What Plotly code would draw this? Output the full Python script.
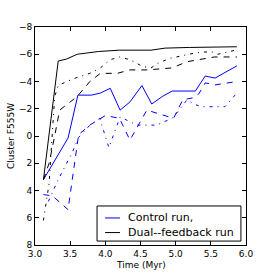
import plotly.graph_objects as go

# Dual-feedback run
dual_solid_t = [3.12, 3.33, 3.45, 3.60, 3.90, 4.20, 4.65, 4.85, 5.20, 5.87]
dual_solid_v = [3.2, -5.5, -5.65, -6.0, -6.2, -6.3, -6.3, -6.45, -6.5, -6.55]

dual_dash_t = [3.12, 3.20, 3.28, 3.35, 3.50, 3.60, 3.78, 3.93, 4.17, 4.35, 4.60, 4.95, 5.16, 5.55, 5.87]
dual_dash_v = [3.2, 2.0, 0.0, -1.9, -2.5, -2.9, -4.0, -4.6, -4.6, -4.85, -4.85, -5.0, -5.45, -5.8, -5.8]

dual_dashdot_t = [3.12, 3.20, 3.28, 3.33, 3.45, 3.60, 3.78, 3.93, 4.07, 4.20, 4.35, 4.53, 4.65, 4.75, 4.92,
                  5.05, 5.28, 5.50, 5.60, 5.85]
dual_dashdot_v = [6.2, 3.5, -2.9, -3.7, -4.0, -4.3, -4.6, -5.0, -5.6, -5.8, -5.6, -5.1, -5.0, -5.35, -5.7,
                  -5.85, -6.1, -6.2, -6.0, -6.3]

# Control run
ctrl_solid_t = [3.12, 3.47, 3.61, 3.80, 3.93, 4.07, 4.21, 4.35, 4.52, 4.66, 4.81, 4.95, 5.28, 5.42, 5.56, 5.87]
ctrl_solid_v = [3.2, 0.15, -3.0, -3.0, -3.15, -3.5, -1.9, -2.5, -3.7, -2.35, -2.9, -3.3, -3.3, -4.4, -4.25, -5.15]

ctrl_dash_t = [3.12, 3.25, 3.47, 3.55, 3.62, 3.78, 4.00, 4.20, 4.35, 4.59, 4.73, 4.85, 4.97, 5.10, 5.24, 5.33,
               5.42, 5.56, 5.87]
ctrl_dash_v = [4.3, 4.4, 5.4, 2.5, -0.1, -0.8, -1.5, -1.3, 0.3, -1.9, -1.7, -1.5, -1.3, -2.65, -2.8, -3.1,
               -3.9, -3.75, -4.0]

ctrl_dashdot_t = [3.19, 3.33, 3.53, 3.62, 3.78, 3.92, 4.05, 4.21, 4.45, 4.73, 4.95, 5.05, 5.16, 5.28, 5.37,
                  5.70, 5.87]
ctrl_dashdot_v = [4.8, 3.2, 1.2, 0.1, -0.8, -1.3, 0.85, -1.4, -0.8, -0.8, -1.3, -1.9, -2.65, -2.3, -2.15,
                  -2.15, -3.15]

legend_names = ["Control run,", "Dual--feedback run"]

BLUE = "#0000ff"
BLACK = "#000000"
DASH = "6px,6px"
DASHDOT = "3px,5px,1px,5px"

fig = go.Figure()

series = [
    (ctrl_solid_t, ctrl_solid_v, BLUE, "solid", legend_names[0]),
    (ctrl_dash_t, ctrl_dash_v, BLUE, DASH, None),
    (ctrl_dashdot_t, ctrl_dashdot_v, BLUE, DASHDOT, None),
    (dual_solid_t, dual_solid_v, BLACK, "solid", legend_names[1]),
    (dual_dash_t, dual_dash_v, BLACK, DASH, None),
    (dual_dashdot_t, dual_dashdot_v, BLACK, DASHDOT, None),
]
for t, v, c, d, name in series:
    fig.add_trace(go.Scatter(x=t, y=v, mode="lines", name=name, showlegend=False,
                             line=dict(color=c, width=1, dash=d)))

axis_common = dict(showline=True, linecolor="black", linewidth=1, mirror="ticks",
                   ticks="inside", ticklen=4, tickcolor="black", tickwidth=1,
                   showgrid=False, zeroline=False,
                   tickfont=dict(family="DejaVu Sans", size=9, color="black"))

# legend box drawn in paper coordinates (matplotlib-style legend)
box = dict(x0=0.294, x1=0.976, y0=0.018, y1=0.179)
rows = [(0.124, BLUE, legend_names[0]), (0.057, BLACK, legend_names[1])]
shapes = [dict(type="rect", xref="paper", yref="paper", line=dict(color="black", width=1),
               fillcolor="white", layer="above", **box)]
annotations = []
for yy, col, label in rows:
    shapes.append(dict(type="line", xref="paper", yref="paper", x0=0.332, x1=0.403, y0=yy, y1=yy,
                       line=dict(color=col, width=1), layer="above"))
    annotations.append(dict(text=label, xref="paper", yref="paper", x=0.433, y=yy,
                            xanchor="left", yanchor="middle", showarrow=False,
                            font=dict(family="DejaVu Sans", size=11, color="black")))

annotations += [
    dict(text="Time (Myr)", xref="paper", yref="paper", x=0.5, y=-0.092,
         xanchor="center", yanchor="middle", showarrow=False,
         font=dict(family="DejaVu Sans", size=9)),
    dict(text="Cluster F555W", xref="paper", yref="paper", x=-0.114, y=0.5,
         xanchor="center", yanchor="middle", textangle=-90, showarrow=False,
         font=dict(family="DejaVu Sans", size=9)),
]

fig.update_layout(
    width=274, height=274,
    margin=dict(l=35, r=28, t=27, b=29),
    paper_bgcolor="white", plot_bgcolor="white",
    font=dict(family="DejaVu Sans", size=9, color="black"),
    xaxis=dict(range=[3, 6], dtick=0.5, tick0=3, tickformat=".1f", **axis_common),
    yaxis=dict(range=[8, -8], dtick=2, tick0=-8, **axis_common),
    showlegend=False,
    shapes=shapes,
    annotations=annotations,
)

fig.write_html("out.html", config={"displayModeBar": False},
               post_script="document.body.style.margin='0px';")
